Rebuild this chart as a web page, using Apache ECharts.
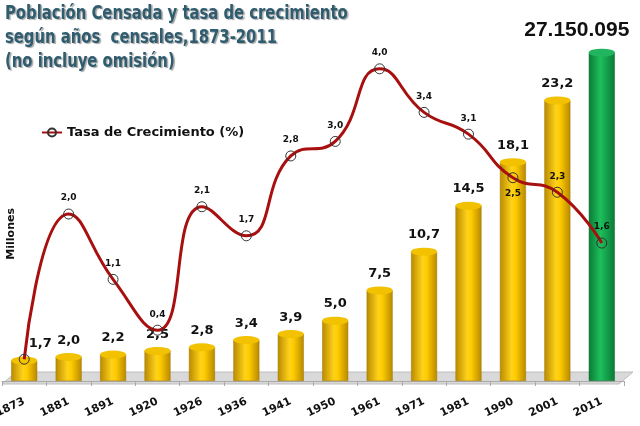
<!DOCTYPE html>
<html><head><meta charset="utf-8">
<script src="https://cdn.jsdelivr.net/npm/echarts@6/dist/echarts.min.js"></script>
<style>html,body{margin:0;padding:0;background:#fff}#c{width:640px;height:426px}</style>
</head><body><div id="c"></div>
<script>
const years = ['1873','1881','1891','1920','1926','1936','1941','1950','1961','1971','1981','1990','2001','2011'];
const population = [1.7, 2.0, 2.2, 2.5, 2.8, 3.4, 3.9, 5.0, 7.5, 10.7, 14.5, 18.1, 23.2, 27.150095];
const popLabels = ['1,7','2,0','2,2','2,5','2,8','3,4','3,9','5,0','7,5','10,7','14,5','18,1','23,2','27.150.095'];
const growth = [0, 2.0, 1.1, 0.4, 2.1, 1.7, 2.8, 3.0, 4.0, 3.4, 3.1, 2.5, 2.3, 1.6];
const growthLabels = ['', '2,0','1,1','0,4','2,1','1,7','2,8','3,0','4,0','3,4','3,1','2,5','2,3','1,6'];
const titleLines = ['Población Censada y tasa de crecimiento','según años  censales,1873-2011','(no incluye omisión)'];

const gold = {type:'linear',x:0,y:0,x2:1,y2:0,colorStops:[{offset:0,color:'#B98A00'},{offset:0.45,color:'#FFD21A'},{offset:0.6,color:'#FFCC00'},{offset:1,color:'#B88800'}]};
const green = {type:'linear',x:0,y:0,x2:1,y2:0,colorStops:[{offset:0,color:'#0A7A35'},{offset:0.45,color:'#1DBF5C'},{offset:1,color:'#0A7A35'}]};
const font = 'DejaVu Sans';

const chart = echarts.init(document.getElementById('c'));
chart.setOption({
  animation:false,
  textStyle:{fontFamily:font},
  legend:{data:['Tasa de Crecimiento (%)'],left:36,top:121,itemWidth:20,itemHeight:10,
    textStyle:{fontFamily:font,fontSize:13,fontWeight:'bold',color:'#111'}},
  graphic:[
    {type:'polygon',z:0,shape:{points:[[2,384],[619,384],[633,372],[16,372]]},style:{fill:'#D9D9D9',stroke:'#BDBDBD'}},
    {type:'text',left:6,top:208,rotation:Math.PI/2,style:{text:'Millones',font:'bold 11px DejaVu Sans',fill:'#111'}},
    {type:'text',x:5,y:2,scaleX:0.78,z:10,style:{text:titleLines.join('\n'),font:'bold 19px DejaVu Sans',lineHeight:24,fill:'#2F5C6E',
      textShadowColor:'rgba(0,0,0,0.35)',textShadowOffsetX:1.5,textShadowOffsetY:1.5,textShadowBlur:1}}
  ],
  grid:{left:2,right:16,top:18,bottom:45,outerBoundsMode:'none',containLabel:false},
  xAxis:{type:'category',data:years,boundaryGap:true,
    axisLine:{lineStyle:{color:'#AAA'}},axisTick:{show:true,length:5,lineStyle:{color:'#AAA'}},
    axisLabel:{rotate:25,fontFamily:font,fontSize:11,fontWeight:'bold',color:'#111',margin:20,interval:0}},
  yAxis:[
    {type:'value',min:0,max:30,show:false,splitLine:{show:false}},
    {type:'value',min:-0.3,max:4.7,show:false,splitLine:{show:false}}
  ],
  series:[
    {type:'bar',name:'Población',yAxisIndex:0,barWidth:26,z:2,
     data:population.map((v,i)=>{
       const o={value:v,itemStyle:{color:i===13?green:gold,borderColor:i===13?'#0A6A2E':'#A07800',borderWidth:0.5}};
       if(i===13) o.label={show:true,position:'top',fontFamily:'Liberation Sans',fontWeight:'bold',fontSize:21,color:'#111',distance:12};
       return o;}),
     label:{show:true,position:'top',distance:10,fontFamily:font,fontWeight:'bold',fontSize:13,color:'#111',
       formatter:p=>popLabels[p.dataIndex]},
     labelLayout:p=>p.dataIndex===13?{dx:-25,hideOverlap:false}:(p.dataIndex===0?{dx:16,hideOverlap:false}:{hideOverlap:false})},
    {type:'pictorialBar',yAxisIndex:0,symbol:'circle',symbolSize:[26,8],symbolPosition:'end',symbolOffset:[0,'-50%'],z:3,
     data:population.map((v,i)=>({value:v,itemStyle:{color:i===13?'#22B560':'#F2C200',borderColor:i===13?'#0A6A2E':'#B08600',borderWidth:0.6}})),
     silent:true},
    {type:'line',name:'Tasa de Crecimiento (%)',yAxisIndex:1,smooth:0.5,z:5,
     data:growth.map((v,i)=>({value:v,label:{position:i===11?'bottom':'top'}})),
     lineStyle:{color:'#A81010',width:3},
     symbol:'circle',symbolSize:10,
     itemStyle:{color:'rgba(0,0,0,0)',borderColor:'#333',borderWidth:1},
     label:{show:true,fontFamily:font,fontSize:9,fontWeight:'bold',color:'#111',distance:6,formatter:p=>growthLabels[p.dataIndex]}}
  ]
});
</script></body></html>
